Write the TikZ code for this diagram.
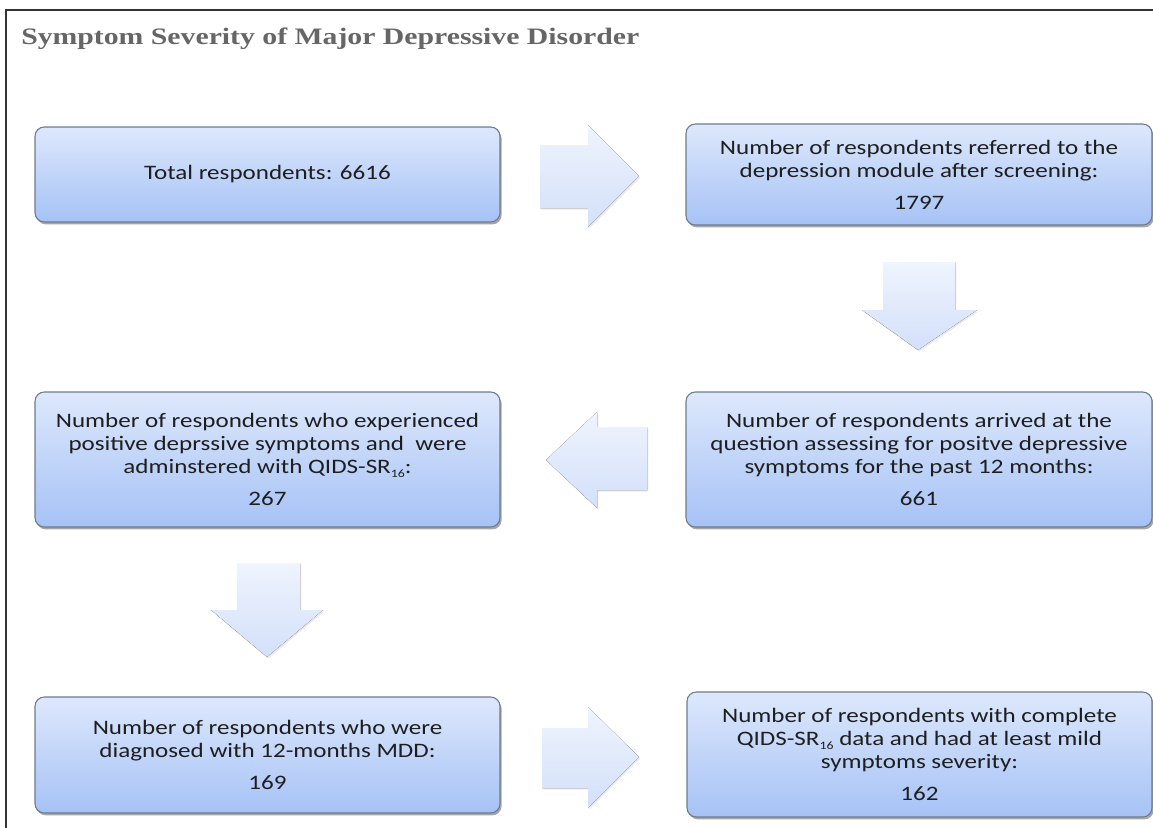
\documentclass[tikz,border=0pt]{standalone}
\usepackage{fontspec}
\setmainfont{Carlito}[FakeStretch=1.22]
\newfontfamily\titlefont{Liberation Serif}[FakeStretch=1.26]
\usetikzlibrary{shadows}
\newcommand\lowsub[1]{\raisebox{-0.45ex}{\fontsize{8.5}{9}\selectfont #1}}
\definecolor{boxtop}{HTML}{DDE8FC}
\definecolor{boxbot}{HTML}{A6C2F6}
\definecolor{boxline}{HTML}{6E7B8E}
\definecolor{arrtop}{HTML}{EFF4FD}
\definecolor{arrbot}{HTML}{D3E0FA}
\definecolor{txt}{HTML}{1E1E1E}
\definecolor{titlegray}{HTML}{666666}
\definecolor{framecol}{HTML}{333333}
\begin{document}
\begin{tikzpicture}[x=0.75pt,y=-0.75pt,
  box/.style={draw=boxline, line width=0.8pt, rounded corners=7pt,
    top color=boxtop, bottom color=boxbot, align=center, text=txt,
    font=\fontsize{15.4}{17.25}\selectfont, inner sep=0pt,
    drop shadow={shadow xshift=1.2pt, shadow yshift=-1.8pt, opacity=0.35, fill=black}},
  blockarrow/.style={top color=arrtop, bottom color=arrbot, draw=none,
    drop shadow={shadow xshift=1pt, shadow yshift=-1.2pt, opacity=0.08, fill=black}}
]
\fill[white] (0,0) rectangle (1153,828);
\useasboundingbox (0,0) rectangle (1153,828);
% frame
\coordinate (fbl) at (6,828);
\coordinate (ftl) at (6,10);
\coordinate (ftr) at (1153,10);
\draw[framecol, line width=1.1pt] (fbl) -- (ftl) -- (ftr);
% title
\node[anchor=base west, inner sep=0pt, text=titlegray,
  font=\titlefont\bfseries\fontsize{17.7}{20}\selectfont] (title) at (21,44)
  {Symptom Severity of Major Depressive Disorder};
% boxes
\node[box, minimum width=465*0.75pt, minimum height=95*0.75pt] (b1) at (267.5,174.5)
  {Total respondents: 6616};
\node[box, minimum width=466*0.75pt, minimum height=101*0.75pt] (b2) at (919,174.5)
  {Number of respondents referred to the\\ depression module after screening:\\[6.75pt] 1797};
\node[box, minimum width=465*0.75pt, minimum height=135*0.75pt] (b3) at (267.5,459.5)
  {Number of respondents who experienced\\ positive deprssive symptoms and\ \ were\\ adminstered with QIDS-SR\lowsub{16}:\\[6.75pt] 267};
\node[box, minimum width=466*0.75pt, minimum height=135*0.75pt] (b4) at (919,459.5)
  {Number of respondents arrived at the\\ question assessing for positve depressive\\ symptoms for the past 12 months:\\[6.75pt] 661};
\node[box, minimum width=465*0.75pt, minimum height=116*0.75pt] (b5) at (267.5,755)
  {Number of respondents who were\\ diagnosed with 12-months MDD:\\[6.75pt] 169};
\node[box, minimum width=465*0.75pt, minimum height=125*0.75pt] (b6) at (919.5,754.5)
  {Number of respondents with complete\\ QIDS-SR\lowsub{16} data and had at least mild\\ symptoms severity:\\[6.75pt] 162};
% block arrows
\fill[blockarrow] (540,145) -- (588,145) -- (588,125) -- (639,176) -- (588,227) -- (588,208) -- (540,208) -- cycle;
\fill[blockarrow] (883,262) -- (955,262) -- (955,310) -- (977,310) -- (918,350) -- (862,310) -- (883,310) -- cycle;
\fill[blockarrow] (647,427) -- (597,427) -- (597,412) -- (546,460) -- (597,508) -- (597,490) -- (647,490) -- cycle;
\fill[blockarrow] (237,563) -- (300,563) -- (300,610) -- (323,610) -- (267,657) -- (211,610) -- (237,610) -- cycle;
\fill[blockarrow] (542,728) -- (588,728) -- (588,707) -- (639,757) -- (588,808) -- (588,788) -- (542,788) -- cycle;
\end{tikzpicture}
\end{document}
